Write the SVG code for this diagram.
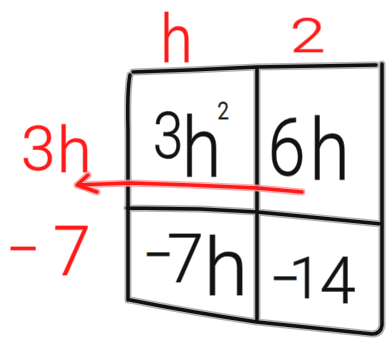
<svg xmlns="http://www.w3.org/2000/svg" width="387" height="338" viewBox="0 0 387 338">
<style>
.halo{fill:none;stroke:#9a9a9a;stroke-width:7;stroke-linecap:round;stroke-linejoin:round;opacity:0.75}
.ink{fill:none;stroke:#111;stroke-width:3.5;stroke-linecap:round;stroke-linejoin:round}
.rhalo{fill:none;stroke:#ff9a9a;stroke-width:7;stroke-linecap:round;stroke-linejoin:round;opacity:0.8}
.rink{fill:none;stroke:#ff1a1a;stroke-width:3.5;stroke-linecap:round;stroke-linejoin:round}
.t{font-family:Roboto,"Liberation Sans",sans-serif;font-weight:300;fill:#111;stroke:#8a8a8a;stroke-width:1.4;paint-order:stroke;stroke-linejoin:round}
.r{font-family:Roboto,"Liberation Sans",sans-serif;font-weight:300;fill:#ff1a1a;stroke:#ff9a9a;stroke-width:1.4;paint-order:stroke;stroke-linejoin:round}
.m{font-family:"Liberation Sans",sans-serif;font-weight:400}
</style>
<g id="grid">
<path class="halo" d="M133 72 L190 70 L257 67 L376 65 M130 75 Q127 90 128 130 L128 300 M257 67 L257 322 M382 64 L382 325 Q381 334 372 334 M127 208 L200 209 L257 212 L320 218 L382 224 M130 300 Q190 312 257 322 L372 334"/>
<path class="ink" d="M133 72 L190 70 L257 67 L376 65 M130 75 Q127 90 128 130 L128 300 M257 67 L257 322 M382 64 L382 325 Q381 334 372 334 M127 208 L200 209 L257 212 L320 218 L382 224 M130 300 Q190 312 257 322 L372 334"/>
</g>
<g id="col-h"><text class="r" transform="scale(0.88,1)" x="182" y="62" font-size="67">h</text></g>
<g id="col-2"><text class="r" transform="scale(1.3,1)" x="223" y="52" font-size="49">2</text></g>
<g id="row-3h"><text class="r"><tspan x="21" y="170" font-size="62">3</tspan><tspan x="57" y="172" font-size="63">h</tspan></text></g>
<g id="row-7"><text class="r"><tspan x="6" y="270" font-size="60">−</tspan><tspan x="53" y="275" font-size="68">7</tspan></text></g>
<g id="cell-3h2"><text class="t" transform="scale(0.85,1)"><tspan x="180" y="158" font-size="64">3</tspan><tspan x="214" y="177" font-size="84">h</tspan><tspan x="256" y="119" font-size="24">2</tspan></text></g>
<g id="cell-6h"><text class="t" transform="scale(0.85,1)"><tspan x="315" y="175" font-size="80">6</tspan><tspan x="364" y="180" font-size="86">h</tspan></text></g>
<g id="cell-7h"><text class="t"><tspan class="m" x="145" y="269" font-size="45">−</tspan><tspan x="167" y="282" font-size="66">7</tspan><tspan x="204" y="295" font-size="80">h</tspan></text></g>
<g id="cell-14"><text class="t"><tspan class="m" x="272" y="293" font-size="45">−</tspan><tspan x="289" y="298" font-size="58">1</tspan><tspan x="320" y="303" font-size="64">4</tspan></text></g>
<g id="connectors">
<path class="rhalo" d="M302 192 L257 188 L190 185 L130 183 L77 185 M88 175 L77 185 L97 192"/>
<path class="rink" d="M302 192 L257 188 L190 185 L130 183 L77 185 M88 175 L77 185 L97 192"/>
</g>
</svg>
